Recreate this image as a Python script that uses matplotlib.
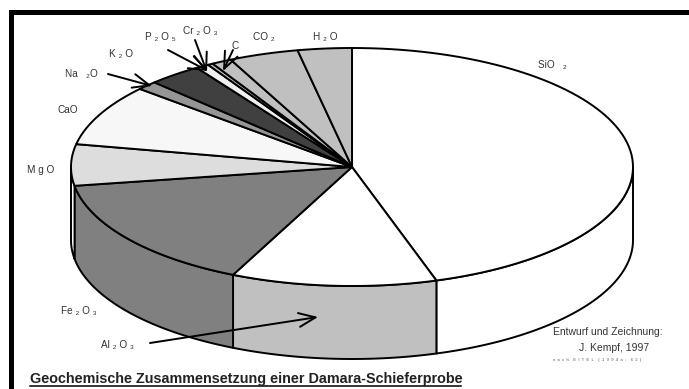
import numpy as np
import matplotlib
matplotlib.use('Agg')
import matplotlib.pyplot as plt
from matplotlib.patches import Polygon, Rectangle

plt.rcParams['font.family'] = ['Liberation Sans', 'DejaVu Sans']

#share of each oxide in percent, clockwise from the top
names = ['SiO2', 'Al2O3', 'Fe2O3', 'MgO', 'CaO', 'Na2O', 'K2O', 'P2O5', 'Cr2O3', 'C', 'CO2', 'H2O']
values = [45.1, 11.8, 15.5, 5.6, 8.3, 1.2, 3.1, 0.75, 0.3, 1.15, 4.0, 3.1]
top_colors = ['#ffffff', '#ffffff', '#808080', '#dddddd', '#f7f7f7', '#969696',
              '#404040', '#f0f0f0', '#c0c0c0', '#c0c0c0', '#c0c0c0', '#c0c0c0']
wall_colors = ['#ffffff', '#c0c0c0', '#808080', '#ffffff', '#f7f7f7', '#969696',
               '#404040', '#f0f0f0', '#c0c0c0', '#c0c0c0', '#c0c0c0', '#c0c0c0']

#label text, x, y
labels = [('SiO   \u2082', 538, 65), ('Al \u2082 O \u2083', 101, 345), ('Fe \u2082 O \u2083', 61, 311),
          ('M g O', 27, 170), ('CaO', 57, 110), ('Na   \u2082O', 65, 74), ('K \u2082 O', 109, 54),
          ('P \u2082 O \u2085', 145, 37), ('Cr \u2082 O \u2083', 183, 31), ('C', 231, 46),
          ('CO \u2082', 253, 37), ('H \u2082 O', 313, 37)]

#arrow start and end
arrows = [((108, 74), (152, 86)), ((168, 50), (208, 71)), ((195, 40), (207, 72)),
          ((233, 50), (223, 71)), ((150, 343), (318, 317))]

cx, cy = 352, 167
rx, ry = 281, 119
depth = 73
lw = 1.4

fig = plt.figure(figsize=(6.89, 3.89), dpi=100)
ax = fig.add_axes([0, 0, 1, 1])
ax.set_xlim(0, 689)
ax.set_ylim(389, 0)
ax.axis('off')

#black frame, top and left only
ax.add_patch(Rectangle((9, 10), 680, 5, fc='black', ec='none'))
ax.add_patch(Rectangle((9, 10), 5, 379, fc='black', ec='none'))


def rim(t, dy=0):
    t = np.radians(t)
    return np.column_stack([cx + rx * np.cos(t), cy - ry * np.sin(t) + dy])


edges = 90 - np.concatenate([[0], np.cumsum(values)]) / sum(values) * 360

#side walls first, only the part on the near side
for i in range(len(values)):
    lo, hi = max(edges[i + 1], -180), min(edges[i], 0)
    if lo >= hi:
        continue
    t = np.linspace(hi, lo, 60)
    pts = np.vstack([rim(t), rim(t[::-1], depth)])
    ax.add_patch(Polygon(pts, closed=True, fc=wall_colors[i], ec='black', lw=lw, joinstyle='round'))

#top faces
for i in range(len(values)):
    t = np.linspace(edges[i], edges[i + 1], 80)
    pts = np.vstack([[cx, cy], rim(t)])
    ax.add_patch(Polygon(pts, closed=True, fc=top_colors[i], ec='black', lw=lw, joinstyle='round'))

for text, x, y in labels:
    ax.text(x, y, text, fontsize=7.2, color='#333333', ha='left', va='center')

for start, end in arrows:
    ax.annotate('', xy=end, xytext=start,
                arrowprops=dict(arrowstyle='->,head_length=1.2,head_width=0.5', mutation_scale=10,
                                color='black', lw=lw, shrinkA=0, shrinkB=0))

ax.text(553, 332, 'Entwurf und Zeichnung:', fontsize=7.5, color='#333333', va='center')
ax.text(579, 348, 'J. Kempf, 1997', fontsize=7.5, color='#333333', va='center')
ax.text(553, 360, 'n  a  c  h    E  I  T  E  L    (  1  9  9  4  a  :    6  2  )', fontsize=3.1,
        color='#555555', va='center')

ax.text(30, 379, 'Geochemische Zusammensetzung einer Damara-Schieferprobe',
        fontsize=10.35, fontweight='bold', color='#222222', va='center')
ax.plot([30, 461], [386, 386], color='black', lw=1.1)

fig.savefig('out.png', dpi=100)
